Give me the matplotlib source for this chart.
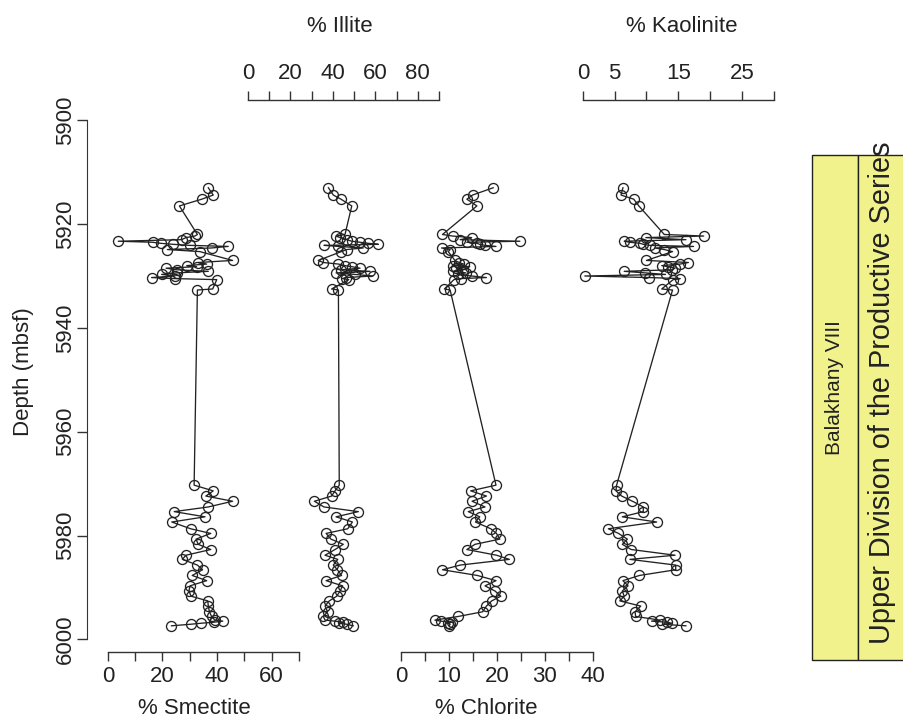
import matplotlib
matplotlib.use("Agg")
import matplotlib.pyplot as plt
from matplotlib.patches import Rectangle

plt.rcParams['font.family'] = ['Liberation Sans', 'DejaVu Sans']

# sample depths (mbsf), shared by all four clay minerals
depth = [5913.0, 5914.4, 5915.2, 5916.5, 5922.0, 5922.3, 5922.6, 5923.0, 5923.3, 5923.5,
         5923.7, 5923.9, 5924.1, 5924.3, 5924.6, 5924.9, 5925.3, 5927.0, 5927.4, 5927.7,
         5928.0, 5928.2, 5928.5, 5928.8, 5929.1, 5929.4, 5929.7, 5930.0, 5930.3, 5930.5,
         5930.7, 5932.5, 5932.7,
         5970.3, 5971.4, 5972.4, 5973.4, 5974.5, 5975.4, 5976.4, 5977.4, 5978.7, 5979.6,
         5980.7, 5981.7, 5982.7, 5983.8, 5984.6, 5985.7, 5986.6, 5987.7, 5988.7, 5989.7,
         5990.7, 5991.7, 5992.6, 5993.6, 5994.7, 5995.6, 5996.3, 5996.5, 5996.7, 5996.9,
         5997.1, 5997.4]

smectite = [36.8, 38.6, 34.4, 26.2, 32.8, 31.9, 28.6, 27.0, 3.8, 16.4, 19.3, 24.0, 30.1,
            44.1, 38.0, 21.8, 33.7, 45.7, 33.1, 36.2, 28.9, 32.5, 21.3, 25.2, 36.8, 25.2,
            19.7, 24.6, 16.0, 24.6, 39.9, 38.4, 32.8,
            31.6, 38.6, 35.9, 45.7, 36.8, 24.3, 35.6, 23.4, 30.3, 37.7, 32.3, 33.1, 37.7,
            28.6, 27.3, 32.8, 34.7, 30.9, 36.2, 30.1, 29.7, 30.5, 36.6, 36.8, 37.2, 38.0,
            39.2, 42.1, 38.9, 34.3, 30.3, 23.3]

illite = [37.9, 40.2, 43.8, 48.9, 45.7, 41.5, 43.4, 46.5, 48.9, 52.8, 56.7, 61.4, 35.8,
          42.6, 54.3, 46.5, 44.0, 33.1, 35.5, 42.6, 45.7, 48.9, 52.8, 44.0, 57.5, 41.5,
          50.4, 58.8, 46.0, 44.5, 47.5, 39.4, 42.6,
          43.0, 41.0, 39.4, 31.3, 35.8, 52.0, 41.5, 49.2, 47.0, 36.8, 39.1, 44.9, 41.0,
          36.3, 42.3, 40.2, 42.1, 44.1, 36.8, 44.6, 43.4, 41.8, 38.3, 36.3, 37.5, 35.5,
          36.3, 41.0, 44.9, 43.0, 46.5, 49.6]

chlorite = [19.2, 14.9, 13.7, 15.8, 8.6, 10.7, 14.7, 12.3, 24.8, 13.7, 15.8, 16.4, 17.5,
            19.8, 8.4, 10.2, 9.8, 11.2, 12.1, 13.0, 10.8, 14.3, 11.5, 12.8, 10.8, 13.5,
            11.9, 14.7, 17.8, 12.4, 11.0, 9.0, 10.2,
            19.8, 14.5, 17.8, 14.8, 17.5, 14.0, 16.4, 15.5, 18.7, 19.9, 20.6, 15.4, 13.7,
            19.9, 22.6, 12.3, 8.6, 15.9, 19.8, 17.5, 19.6, 20.8, 18.9, 17.8, 17.0, 11.9,
            7.0, 8.2, 10.5, 9.8, 10.2, 10.0]

kaolinite = [6.3, 6.0, 8.0, 8.8, 12.8, 19.0, 9.9, 16.2, 6.5, 7.4, 9.0, 9.5, 10.5, 17.4,
             11.3, 12.8, 14.1, 10.0, 16.6, 15.3, 12.4, 13.4, 14.5, 14.0, 6.5, 9.8, 13.0,
             0.3, 10.4, 15.3, 14.2, 12.4, 14.1,
             5.3, 5.2, 6.1, 7.8, 9.5, 9.5, 6.2, 11.6, 4.0, 5.6, 7.0, 6.2, 7.6, 14.5, 7.4,
             14.6, 14.6, 8.9, 6.3, 7.1, 6.2, 6.5, 5.8, 9.1, 8.2, 8.3, 12.1, 10.8, 13.2,
             14.0, 12.5, 16.2]

depth_ticks = [5900, 5920, 5940, 5960, 5980, 6000]

W, H = 904, 720
fig = plt.figure(figsize=(W / 100, H / 100), dpi=100)
PT = 0.72  # points per pixel at 100 dpi
INK = '#222222'
AX = '#333333'

top_y, bot_y = 120.3, 639.3

# name, values, max, tick step, labelled ticks, side, x0, x1, title x
panels = [
    ('% Smectite', smectite, 70, 10, [0, 20, 40, 60], 'bottom', 107.9, 298.9, 194),
    ('% Illite', illite, 90, 10, [0, 20, 40, 60, 80], 'top', 248.0, 439.0, 340),
    ('% Chlorite', chlorite, 40, 5, [0, 10, 20, 30, 40], 'bottom', 401.4, 592.5, 486),
    ('% Kaolinite', kaolinite, 30, 5, [0, 5, 15, 25], 'top', 582.9, 773.6, 682),
]

for i, (name, vals, xmax, step, labelled, side, x0, x1, tx) in enumerate(panels):
    ax = fig.add_axes([x0 / W, 1 - bot_y / H, (x1 - x0) / W, (bot_y - top_y) / H])
    ax.patch.set_visible(False)
    ax.plot(vals, depth, color=INK, lw=0.95, marker='o', ms=7.2, mfc='none',
            mec=INK, mew=0.95, clip_on=False, zorder=3)
    ax.set_xlim(0, xmax)
    ax.set_ylim(6000, 5900)
    for s in ['left', 'right', 'top', 'bottom']:
        ax.spines[s].set_visible(False)
    ticks = list(range(0, xmax + 1, step))
    ax.set_xticks(ticks)
    ax.set_xticklabels([str(t) if t in labelled else '' for t in ticks])
    ax.spines[side].set_visible(True)
    ax.spines[side].set_color(AX)
    ax.spines[side].set_linewidth(1.0)
    if side == 'top':
        ax.xaxis.tick_top()
        ax.spines['top'].set_position(('outward', (top_y - 100) * PT))
        fig.text(tx / W, 1 - 27 / H, name, ha='center', va='center', fontsize=16, color=INK)
        pad = 5
    else:
        ax.xaxis.tick_bottom()
        ax.spines['bottom'].set_position(('outward', (652 - bot_y) * PT))
        fig.text(tx / W, 1 - 708 / H, name, ha='center', va='center', fontsize=16, color=INK)
        pad = 3.5
    ax.tick_params(axis='x', direction='out', length=6.5, width=1.0, color=AX,
                   labelsize=16, labelcolor=INK, pad=pad)

    if i == 0:
        ax.spines['left'].set_visible(True)
        ax.spines['left'].set_color(AX)
        ax.spines['left'].set_position(('outward', (x0 - 87) * PT))
        ax.set_yticks(depth_ticks)
        ax.set_yticklabels([str(d) for d in depth_ticks], rotation=90, va='center')
        ax.tick_params(axis='y', direction='out', length=7, width=1.0, color=AX,
                       labelsize=16, labelcolor=INK, pad=1)
        fig.text(23 / W, 1 - 372 / H, 'Depth (mbsf)', rotation=90, ha='center',
                 va='center', fontsize=16, color=INK)
    else:
        ax.set_yticks([])

# stratigraphic column
col = fig.add_axes([812 / W, 1 - 660 / H, (906 - 812) / W, (660 - 155) / H])
col.set_axis_off()
col.set_xlim(812, 906)
col.set_ylim(0, 1)
col.add_patch(Rectangle((812, 0), 46, 1, facecolor='#F2F28C', edgecolor=INK, lw=1.0,
                        clip_on=False))
col.add_patch(Rectangle((858, 0), 48, 1, facecolor='#F2F28C', edgecolor=INK, lw=1.0,
                        clip_on=False))
col.text(835, 0.539, 'Balakhany VIII', rotation=90, ha='center', va='center',
         fontsize=15, color=INK)
col.text(882, 0.53, 'Upper Division of the Productive Series', rotation=90,
         ha='center', va='center', fontsize=20.8, color=INK)

fig.savefig('out.png', dpi=100)
